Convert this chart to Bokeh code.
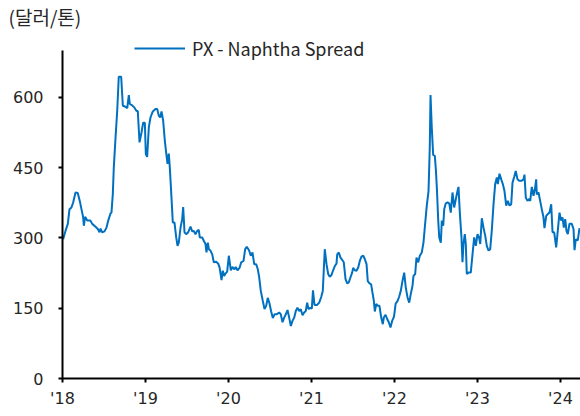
from bokeh.plotting import figure
from bokeh.models import Range1d, FixedTicker, Legend, LegendItem, ColumnDataSource
from bokeh.embed import file_html
from bokeh.resources import INLINE

years = [
    2018.008, 2018.036, 2018.064, 2018.084, 2018.108, 2018.129, 2018.157, 2018.184, 2018.208, 2018.229,
    2018.249, 2018.257, 2018.273, 2018.298, 2018.337, 2018.358, 2018.398, 2018.425, 2018.446, 2018.458,
    2018.478, 2018.506, 2018.530, 2018.551, 2018.578, 2018.590, 2018.606, 2018.618, 2018.639, 2018.659,
    2018.678, 2018.707, 2018.727, 2018.759, 2018.780, 2018.799, 2018.811, 2018.840, 2018.867, 2018.892,
    2018.907, 2018.928, 2018.952, 2018.972, 2018.992,
    2019.004, 2019.020, 2019.040, 2019.060, 2019.088, 2019.120, 2019.141, 2019.160, 2019.177, 2019.193,
    2019.213, 2019.233, 2019.249, 2019.265, 2019.281, 2019.293, 2019.313, 2019.329, 2019.349, 2019.370,
    2019.386, 2019.401, 2019.422, 2019.442, 2019.454, 2019.470, 2019.490, 2019.514, 2019.542, 2019.563,
    2019.582, 2019.602, 2019.623, 2019.642, 2019.654, 2019.683, 2019.702, 2019.723, 2019.735, 2019.751,
    2019.763, 2019.783, 2019.804, 2019.823, 2019.852, 2019.876, 2019.892, 2019.904, 2019.916, 2019.931,
    2019.948, 2019.964, 2019.984,
    2020.004, 2020.028, 2020.048, 2020.072, 2020.088, 2020.108, 2020.133, 2020.153, 2020.181, 2020.201,
    2020.220, 2020.249, 2020.269, 2020.289, 2020.310, 2020.334, 2020.353, 2020.370, 2020.389, 2020.413,
    2020.434, 2020.454, 2020.473, 2020.494, 2020.514, 2020.534, 2020.554, 2020.582, 2020.611, 2020.630,
    2020.651, 2020.671, 2020.690, 2020.711, 2020.731, 2020.751, 2020.771, 2020.792, 2020.811, 2020.831,
    2020.852, 2020.871, 2020.892, 2020.912, 2020.931, 2020.948, 2020.964, 2020.988,
    2021.004, 2021.018, 2021.036, 2021.066, 2021.093, 2021.117, 2021.136, 2021.160, 2021.181, 2021.201,
    2021.220, 2021.241, 2021.261, 2021.281, 2021.301, 2021.310, 2021.329, 2021.349, 2021.370, 2021.389,
    2021.410, 2021.430, 2021.449, 2021.470, 2021.490, 2021.502, 2021.522, 2021.542, 2021.563, 2021.582,
    2021.602, 2021.623, 2021.642, 2021.663, 2021.678, 2021.699, 2021.719, 2021.731, 2021.751, 2021.763,
    2021.780, 2021.799, 2021.819, 2021.840, 2021.859, 2021.871, 2021.892, 2021.912, 2021.931, 2021.952,
    2021.972, 2021.994,
    2022.014, 2022.036, 2022.057, 2022.076, 2022.096, 2022.117, 2022.136, 2022.157, 2022.177, 2022.196,
    2022.217, 2022.229, 2022.249, 2022.265, 2022.286, 2022.305, 2022.329, 2022.349, 2022.365, 2022.389,
    2022.410, 2022.425, 2022.434, 2022.449, 2022.466, 2022.486, 2022.498, 2022.510, 2022.527, 2022.539,
    2022.558, 2022.570, 2022.587, 2022.599, 2022.618, 2022.639, 2022.659, 2022.678, 2022.699, 2022.719,
    2022.739, 2022.759, 2022.771, 2022.787, 2022.807, 2022.819, 2022.831, 2022.847, 2022.859, 2022.871,
    2022.892, 2022.919, 2022.940, 2022.960, 2022.980,
    2023.000, 2023.020, 2023.033, 2023.052, 2023.072, 2023.093, 2023.112, 2023.133, 2023.153, 2023.172,
    2023.193, 2023.213, 2023.233, 2023.245, 2023.265, 2023.286, 2023.305, 2023.325, 2023.346, 2023.365,
    2023.386, 2023.406, 2023.422, 2023.442, 2023.461, 2023.482, 2023.502, 2023.534, 2023.554, 2023.566,
    2023.582, 2023.602, 2023.623, 2023.635, 2023.654, 2023.675, 2023.695, 2023.707, 2023.714, 2023.735,
    2023.755, 2023.775, 2023.795, 2023.807, 2023.828, 2023.847, 2023.867, 2023.888, 2023.904, 2023.924,
    2023.948, 2023.967, 2023.988,
    2024.008, 2024.024, 2024.040, 2024.057, 2024.072, 2024.088, 2024.108, 2024.136, 2024.157, 2024.169,
    2024.184, 2024.208, 2024.229,
]

spread = [
    297, 315, 330, 361, 365, 376, 397, 396, 379, 361,
    344, 326, 345, 337, 337, 330, 324, 319, 312, 320,
    312, 314, 322, 337, 352, 354, 393, 450, 514, 571,
    644, 644, 582, 580, 577, 605, 586, 583, 578, 571,
    571, 504, 525, 546, 546,
    479, 473, 536, 557, 570, 575, 575, 561, 557, 570,
    550, 507, 482, 458, 480, 450, 386, 333, 333, 301,
    283, 290, 322, 340, 366, 312, 308, 312, 324, 314,
    315, 308, 315, 317, 301, 301, 294, 287, 269, 290,
    276, 273, 265, 248, 249, 245, 237, 224, 210, 230,
    219, 224, 228,
    262, 231, 238, 233, 238, 231, 236, 248, 251, 276,
    281, 273, 262, 269, 244, 244, 233, 216, 187, 166,
    148, 155, 172, 160, 143, 129, 137, 137, 141, 137,
    120, 130, 137, 146, 130, 112, 123, 130, 144, 151,
    144, 148, 135, 141, 144, 162, 148, 151,
    149, 188, 157, 157, 162, 174, 187, 276, 244, 223,
    217, 221, 231, 240, 245, 265, 269, 258, 253, 248,
    212, 203, 205, 216, 226, 236, 231, 230, 237, 251,
    260, 262, 255, 244, 208, 203, 201, 187, 166, 143,
    159, 155, 155, 130, 116, 130, 136, 127, 120, 109,
    123, 132,
    160, 165, 175, 187, 208, 226, 194, 173, 162, 180,
    198, 219, 223, 258, 248, 262, 269, 290, 322, 369,
    400, 493, 605, 536, 477, 475, 447, 408, 337, 301,
    290, 337, 326, 361, 374, 376, 374, 354, 397, 365,
    383, 400, 409, 354, 301, 248, 287, 308, 287, 223,
    226, 226, 265, 301, 283,
    308, 300, 287, 342, 322, 305, 283, 273, 276, 315,
    372, 415, 429, 415, 437, 425, 415, 400, 369, 379,
    369, 372, 418, 430, 443, 425, 422, 422, 425, 435,
    386, 379, 383, 379, 409, 390, 408, 425, 393, 397,
    379, 361, 344, 321, 347, 351, 354, 372, 312, 312,
    280, 315, 354,
    337, 344, 322, 340, 315, 308, 330, 330, 319, 274,
    297, 295, 321,
]

tick_years = [2018, 2019, 2020, 2021, 2022, 2023, 2024]
tick_labels = ["'18", "'19", "'20", "'21", "'22", "'23", "'24"]
y_ticks = [0, 150, 300, 450, 600]

series_name = "PX - Naphtha Spread"
unit_label = "(달러/톤)"

KFONT = "Noto Sans CJK KR"
NFONT = "DejaVu Sans"
TEXT_COLOR = "#262626"
LINE_COLOR = "#0070C0"

p = figure(frame_width=518, frame_height=348, output_backend="svg", toolbar_location=None,
           x_range=Range1d(2018, 2024.241), y_range=Range1d(0, 742.7),
           min_border_left=62, min_border_right=0, min_border_top=30, min_border_bottom=30)
p.outline_line_color = None
p.xgrid.visible = False
p.ygrid.visible = False
p.background_fill_color = "white"
p.border_fill_color = "white"

p.title.text = unit_label
p.title.align = "left"
p.title.offset = -54
p.title.standoff = 0
p.title.vertical_align = "middle"
p.title.text_font = KFONT
p.title.text_font_size = "19px"
p.title.text_font_style = "normal"
p.title.text_color = TEXT_COLOR

src = ColumnDataSource(dict(x=years, y=spread))
r = p.line("x", "y", source=src, line_color=LINE_COLOR, line_width=2)

for ax in (p.xaxis[0], p.yaxis[0]):
    ax.axis_line_color = "black"
    ax.axis_line_width = 2
    ax.major_tick_line_color = "black"
    ax.major_tick_line_width = 2
    ax.major_tick_in = 0
    ax.major_tick_out = 4
    ax.minor_tick_line_color = None
    ax.major_label_text_font = NFONT
    ax.major_label_text_font_size = "16px"
    ax.major_label_text_color = TEXT_COLOR

p.xaxis.ticker = FixedTicker(ticks=tick_years)
p.xaxis.major_label_overrides = {y: l for y, l in zip(tick_years, tick_labels)}
p.xaxis.major_label_standoff = 6
p.yaxis.ticker = FixedTicker(ticks=y_ticks)
p.yaxis.major_label_standoff = 15
p.yaxis.bounds = (0, 700)

legend = Legend(items=[LegendItem(label=series_name, renderers=[r])],
                location=(72, 317), padding=0, margin=0, spacing=0,
                glyph_width=51, glyph_height=22, label_height=22, label_standoff=7,
                border_line_color=None, background_fill_alpha=0,
                label_text_font=KFONT, label_text_font_size="18px",
                label_text_color=TEXT_COLOR)
p.add_layout(legend)

open("out.html", "w").write(file_html(p, INLINE))
